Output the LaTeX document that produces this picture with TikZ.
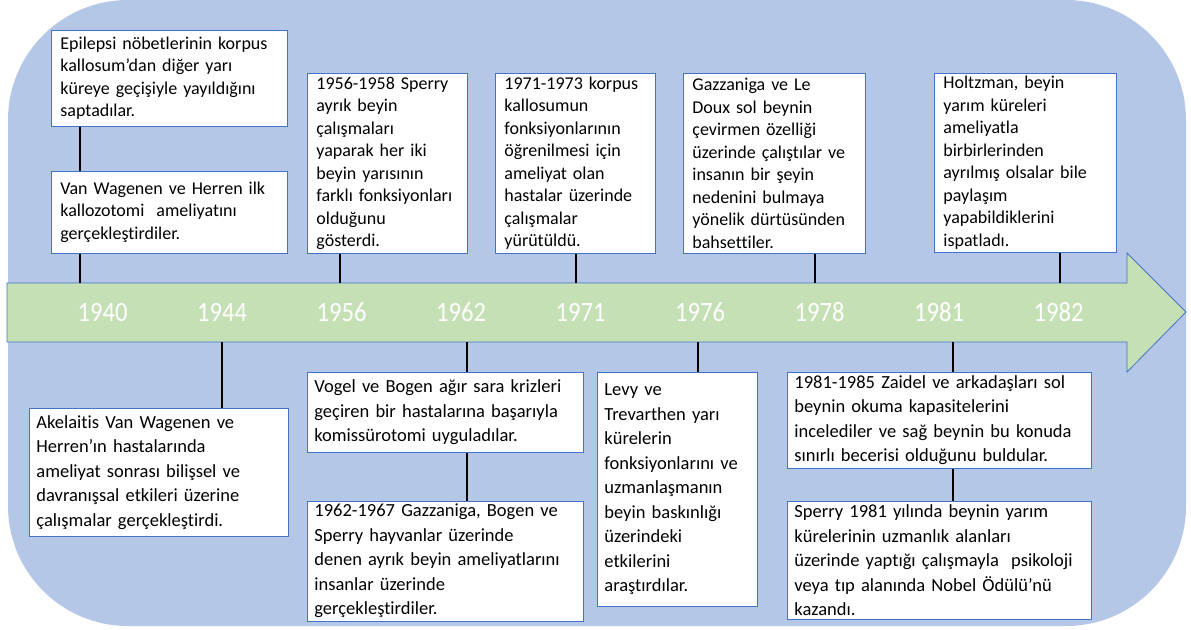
\documentclass[tikz,border=0pt]{standalone}
\usepackage{fontspec}
\setmainfont{Carlito}[Ligatures=NoCommon]
\newfontfamily\yearfont{Carlito}[FakeStretch=0.88]
\usetikzlibrary{positioning}
\definecolor{bgblue}{HTML}{B4C7E7}
\definecolor{axisgreen}{HTML}{C5E0B4}
\definecolor{lineblue}{HTML}{4472C4}
\begin{document}
\begin{tikzpicture}[x=1pt, y=-1pt, node distance=44pt]
    \tikzstyle{event} = [rectangle, draw=lineblue, line width=0.8pt, fill=white, align=left, inner xsep=9pt, inner ysep=3pt, font=\fontsize{18}{22.5}\selectfont]
    \tikzstyle{eventlow} = [event, inner xsep=7pt, font=\fontsize{18.5}{24.5}\selectfont]
    \tikzstyle{year} = [text=white, anchor=base, font=\yearfont\fontsize{28}{28}\selectfont]
    \tikzstyle{tick} = [line width=2pt]
    \useasboundingbox (0,0) rectangle (1191,629);
    \fill[bgblue, rounded corners=120pt] (8,0) rectangle (1186,626);
    \draw[lineblue, fill=axisgreen, line width=0.8pt] (7,283) -- (1127,283) -- (1127,253) -- (1186,312) -- (1127,372) -- (1127,342) -- (7,342) -- cycle;

    \foreach \yr [count=\i from 0] in {1940,1944,1956,1962,1971,1976,1978,1981,1982}
        \node[year] (y\yr) at (102.5+119.5*\i, 321) {\yr};

    % above the axis
    \node (ep) [event, anchor=north west, text width=218pt, minimum height=96pt] at (51,30) {Epilepsi nöbetlerinin korpus\\ kallosum’dan diğer yarı\\ küreye geçişiyle yayıldığını\\ saptadılar.};
    \node (vw) [event, text width=218pt, minimum height=82pt, below=of ep] {Van Wagenen ve Herren ilk\\ kallozotomi\ \ ameliyatını\\ gerçekleştirdiler.};
    \node (sp56) [event, anchor=north west, text width=142pt, minimum height=180pt] at (307,73) {1956-1958 Sperry\\ ayrık beyin\\ çalışmaları\\ yaparak her iki\\ beyin yarısının\\ farklı fonksiyonları\\ olduğunu\\ gösterdi.};
    \node (ko71) [event, anchor=north west, text width=142pt, minimum height=180pt] at (495,73) {1971-1973 korpus\\ kallosumun\\ fonksiyonlarının\\ öğrenilmesi için\\ ameliyat olan\\ hastalar üzerinde\\ çalışmalar\\ yürütüldü.};
    \node (gl78) [event, anchor=north west, text width=164pt, minimum height=180pt] at (683,73) {Gazzaniga ve Le\\ Doux sol beynin\\ çevirmen özelliği\\ üzerinde çalıştılar ve\\ insanın bir şeyin\\ nedenini bulmaya\\ yönelik dürtüsünden\\ bahsettiler.};
    \node (ho82) [event, anchor=north west, text width=164pt, minimum height=175pt] at (934,73) {Holtzman, beyin\\ yarım küreleri\\ ameliyatla\\ birbirlerinden\\ ayrılmış olsalar bile\\ paylaşım\\ yapabildiklerini\\ ispatladı.};

    % below the axis
    \node (ak44) [eventlow, anchor=north west, text width=245pt, minimum height=128pt] at (29,408) {Akelaitis Van Wagenen ve\\ Herren’ın hastalarında\\ ameliyat sonrası bilişsel ve\\ davranışsal etkileri üzerine\\ çalışmalar gerçekleştirdi.};
    \node (vb62) [eventlow, anchor=north west, text width=262pt, minimum height=80pt] at (307,372) {Vogel ve Bogen ağır sara krizleri\\ geçiren bir hastalarına başarıyla\\ komissürotomi uyguladılar.};
    \node (gz62) [eventlow, text width=262pt, minimum height=118pt, below=48pt of vb62] {1962-1967 Gazzaniga, Bogen ve\\ Sperry hayvanlar üzerinde\\ denen ayrık beyin ameliyatlarını\\ insanlar üzerinde\\ gerçekleştirdiler.};
    \node (lt76) [eventlow, anchor=north west, text width=146pt, minimum height=234pt] at (597,372) {Levy ve\\ Trevarthen yarı\\ kürelerin\\ fonksiyonlarını ve\\ uzmanlaşmanın\\ beyin baskınlığı\\ üzerindeki\\ etkilerini\\ araştırdılar.};
    \node (za81) [eventlow, anchor=north west, text width=290pt, minimum height=96pt] at (787,372) {1981-1985 Zaidel ve arkadaşları sol\\ beynin okuma kapasitelerini\\ incelediler ve sağ beynin bu konuda\\ sınırlı becerisi olduğunu buldular.};
    \node (sp81) [eventlow, text width=290pt, minimum height=118pt, below=32pt of za81] {Sperry 1981 yılında beynin yarım\\ kürelerinin uzmanlık alanları\\ üzerinde yaptığı çalışmayla\ \ psikoloji\\ veya tıp alanında Nobel Ödülü’nü\\ kazandı.};

    % where the ticks meet the axis
    \coordinate (k1940) at (80,283);
    \coordinate (k1956) at (340,283);
    \coordinate (k1971) at (576,283);
    \coordinate (k1978) at (815,283);
    \coordinate (k1982) at (1060,283);
    \coordinate (k1944) at (222,342);
    \coordinate (k1962) at (467,342);
    \coordinate (k1976) at (698,342);
    \coordinate (k1981) at (953,342);

    \draw[tick] (ep.south -| k1940) -- (vw.north -| k1940);
    \draw[tick] (vw.south -| k1940) -- (k1940);
    \draw[tick] (sp56.south -| k1956) -- (k1956);
    \draw[tick] (ko71.south -| k1971) -- (k1971);
    \draw[tick] (gl78.south -| k1978) -- (k1978);
    \draw[tick] (ho82.south -| k1982) -- (k1982);
    \draw[tick] (k1944) -- (k1944 |- ak44.north);
    \draw[tick] (k1962) -- (k1962 |- vb62.north);
    \draw[tick] (vb62.south -| k1962) -- (gz62.north -| k1962);
    \draw[tick] (k1976) -- (k1976 |- lt76.north);
    \draw[tick] (k1981) -- (k1981 |- za81.north);
    \draw[tick] (za81.south -| k1981) -- (sp81.north -| k1981);
\end{tikzpicture}
\end{document}
